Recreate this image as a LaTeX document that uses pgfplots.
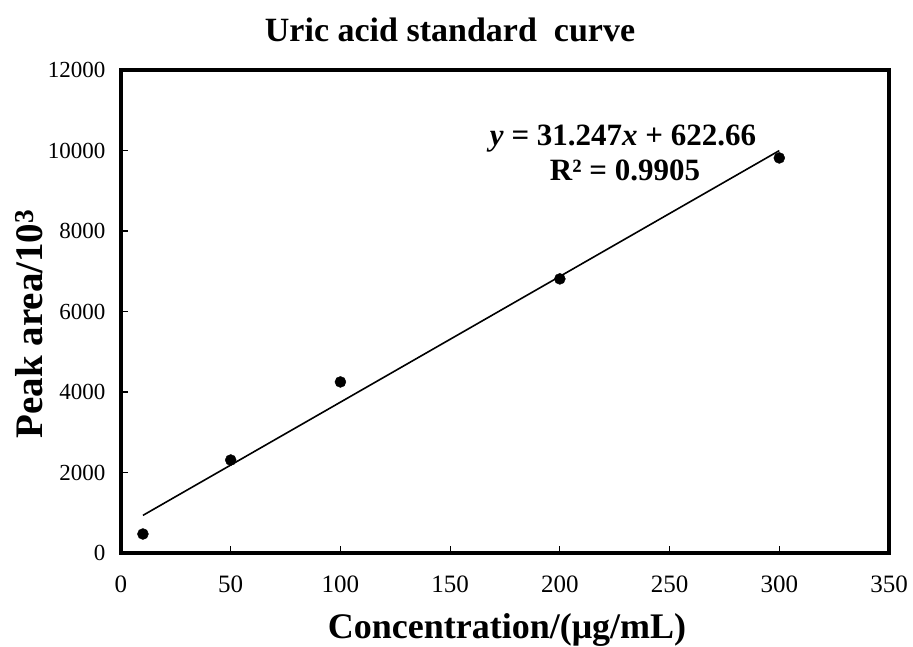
\documentclass[border=0pt]{standalone}
\usepackage{pgfplots}
\pgfplotsset{compat=1.18}
\usepackage{fontspec}
\setmainfont{Liberation Serif}
\begin{document}
\begin{tikzpicture}[x=1bp,y=1bp]
\useasboundingbox (-121bp,-94bp) rectangle (792bp,553bp);
\begin{axis}[
  at={(0,0)}, anchor=south west,
  scale only axis, width=768bp, height=483bp,
  xmin=0, xmax=350, ymin=0, ymax=12000,
  xtick={0,50,...,350}, ytick={0,2000,...,12000},
  axis line style={line width=3.5bp},
  tick style={line width=1.2bp, black},
  tick align=inside, major tick length=7bp,
  xtick pos=bottom, ytick pos=left,
  /pgf/number format/assume math mode=true,
  /pgf/number format/1000 sep={},
  xticklabel style={font=\fontsize{25bp}{27bp}\selectfont, yshift=-19bp},
  yticklabel style={font=\fontsize{23bp}{25bp}\selectfont, xshift=-12bp},
  scaled ticks=false,
  clip=false,
]
\addplot[only marks, mark=*, mark size=5.5bp, black] coordinates {
  (10,472) (50,2310) (100,4250) (200,6810) (300,9815)
};
\addplot[black, line width=1.6bp, no marks] coordinates {
  (10,935.13) (300,9996.76)
};
\end{axis}
\node[font=\bfseries\fontsize{34bp}{36bp}\selectfont] at (329bp,523bp) {Uric acid standard\ \ curve};
\node[font=\bfseries\fontsize{36bp}{38bp}\selectfont, anchor=base] at (386bp,-85bp) {Concentration/(μg/mL)};
\node[font=\bfseries\fontsize{39bp}{41bp}\selectfont, rotate=90] at (-92bp,229bp) {Peak area/10\textsuperscript{3}};
\node[font=\bfseries\fontsize{31bp}{33bp}\selectfont] at (502bp,414bp) {\textit{y} = 31.247\textit{x} + 622.66};
\node[font=\bfseries\fontsize{31bp}{33bp}\selectfont] at (504bp,383bp) {R² = 0.9905};
\end{tikzpicture}
\end{document}
